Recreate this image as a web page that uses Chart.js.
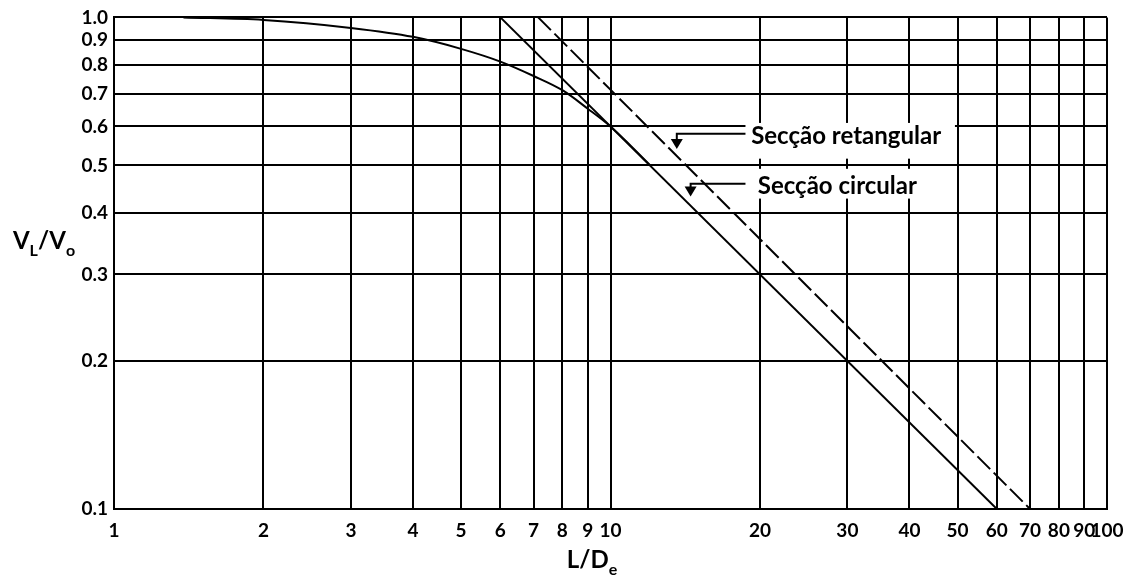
<!DOCTYPE html>
<html lang="pt">
<head>
  <meta charset="UTF-8">
  <title>VL/Vo em função de L/De</title>
  <script src="https://cdn.jsdelivr.net/npm/chart.js"></script>
  <style>
    html, body {
      margin: 0;
      padding: 0;
      background-color: #fff;
    }
    .chart-container {
      width: 1140px;
      height: 585px;
    }
  </style>
</head>
<body>

  <div class="chart-container">
    <canvas id="velocidadeChart"></canvas>
  </div>

  <script>
    // Escalas log-log: marcas dos eixos
    const xTicks = [1, 2, 3, 4, 5, 6, 7, 8, 9, 10, 20, 30, 40, 50, 60, 70, 80, 90, 100];
    const yTicks = [0.1, 0.2, 0.3, 0.4, 0.5, 0.6, 0.7, 0.8, 0.9, 1.0];

    // Curva geral
    const curvaX = [1.38, 2, 3, 4, 5, 6, 7, 8, 9, 10, 11, 12];
    const curvaY = [1.0, 0.988, 0.952, 0.913, 0.863, 0.813, 0.76, 0.711, 0.652, 0.6, 0.547, 0.501];

    // Secção circular - linha cheia
    const circularX = [6, 60];
    const circularY = [1.0, 0.1];

    // Secção retangular - linha tracejada
    const retangularX = [7.15, 70];
    const retangularY = [1.0, 0.1];

    const notas = ['Secção retangular', 'Secção circular'];

    const fonte = 'Lato, "Open Sans", sans-serif';
    const pares = (xs, ys) => xs.map((v, i) => ({ x: v, y: ys[i] }));

    // Títulos dos eixos com índices, setas e legendas das linhas
    const desenhos = {
      id: 'desenhos',
      afterDraw(chart) {
        const { ctx, scales: { x, y } } = chart;
        ctx.save();
        ctx.fillStyle = '#000';
        ctx.strokeStyle = '#000';
        ctx.textBaseline = 'alphabetic';

        // texto com índice: partes [texto, é índice?]
        function comIndice(partes, cx, base) {
          const larg = partes.map(([t, sub]) => {
            ctx.font = sub ? 'bold 16px ' + fonte : 'bold 24px ' + fonte;
            return ctx.measureText(t).width;
          });
          let px = cx - larg.reduce((a, b) => a + b, 0) / 2;
          partes.forEach(([t, sub], i) => {
            ctx.font = sub ? 'bold 16px ' + fonte : 'bold 24px ' + fonte;
            ctx.fillText(t, px, sub ? base + 7 : base);
            px += larg[i];
          });
        }
        ctx.textAlign = 'left';
        comIndice([['V', false], ['L', true], ['/V', false], ['o', true]], 44, 249);
        comIndice([['L/D', false], ['e', true]], 592, 568);

        // caixas brancas atrás das legendas
        ctx.fillStyle = '#fff';
        const caixas = [[18.7, 49.4, 0.61, 0.516], [18.7, 44, 0.492, 0.428]];
        caixas.forEach(([x0, x1, y0, y1]) => {
          const l = x.getPixelForValue(x0), r = x.getPixelForValue(x1);
          const t = y.getPixelForValue(y0), b = y.getPixelForValue(y1);
          ctx.fillRect(l, t, r - l, b - t);
        });

        // setas
        ctx.fillStyle = '#000';
        ctx.lineWidth = 2;
        const setas = [[13.6, 18.7, 0.58, 0.54], [14.5, 18.7, 0.459, 0.432]];
        setas.forEach(([xp, xf, yl, yp]) => {
          const px = x.getPixelForValue(xp), pf = x.getPixelForValue(xf);
          const py = y.getPixelForValue(yl), pt = y.getPixelForValue(yp);
          ctx.beginPath();
          ctx.moveTo(pf, py);
          ctx.lineTo(px, py);
          ctx.lineTo(px, pt - 8);
          ctx.stroke();
          ctx.beginPath();
          ctx.moveTo(px - 6, pt - 10);
          ctx.lineTo(px + 6, pt - 10);
          ctx.lineTo(px, pt);
          ctx.closePath();
          ctx.fill();
        });

        // legendas
        ctx.font = 'bold 24px ' + fonte;
        ctx.textBaseline = 'middle';
        ctx.fillText(notas[0], x.getPixelForValue(19.2), y.getPixelForValue(0.572));
        ctx.fillText(notas[1], x.getPixelForValue(19.8), y.getPixelForValue(0.453));
        ctx.restore();
      }
    };

    const ctxVel = document.getElementById('velocidadeChart').getContext('2d');
    const velocidadeChart = new Chart(ctxVel, {
      type: 'line',
      data: {
        datasets: [
          {
            label: 'Curva',
            data: pares(curvaX, curvaY),
            borderColor: '#000',
            borderWidth: 2,
            pointRadius: 0,
            cubicInterpolationMode: 'monotone'
          },
          {
            label: 'Secção circular',
            data: pares(circularX, circularY),
            borderColor: '#000',
            borderWidth: 2,
            pointRadius: 0
          },
          {
            label: 'Secção retangular',
            data: pares(retangularX, retangularY),
            borderColor: '#000',
            borderWidth: 2,
            borderDash: [18, 5],
            pointRadius: 0
          }
        ]
      },
      options: {
        responsive: true,
        maintainAspectRatio: false,
        animation: false,
        layout: { padding: { top: 15, right: 33, left: 0, bottom: 0 } },
        plugins: {
          legend: { display: false },
          tooltip: { enabled: false }
        },
        scales: {
          x: {
            type: 'logarithmic',
            min: 1,
            max: 100,
            afterBuildTicks: s => { s.ticks = xTicks.map(v => ({ value: v })); },
            afterFit: s => { s.height = 76; },
            grid: { color: '#000', lineWidth: 2, drawTicks: false },
            border: { color: '#000', width: 2 },
            ticks: {
              autoSkip: false,
              maxRotation: 0,
              minRotation: 0,
              padding: 10,
              color: '#000',
              font: { family: fonte, size: 19, weight: 'bold' },
              callback: v => String(v)
            }
          },
          y: {
            type: 'logarithmic',
            min: 0.1,
            max: 1.0,
            afterBuildTicks: s => { s.ticks = yTicks.map(v => ({ value: v })); },
            afterFit: s => { s.width = 114; },
            grid: { color: '#000', lineWidth: 2, drawTicks: false },
            border: { color: '#000', width: 2 },
            ticks: {
              autoSkip: false,
              padding: 6,
              color: '#000',
              font: { family: fonte, size: 19, weight: 'bold' },
              callback: v => Number(v).toFixed(1)
            }
          }
        }
      },
      plugins: [desenhos]
    });
  </script>

</body>
</html>
